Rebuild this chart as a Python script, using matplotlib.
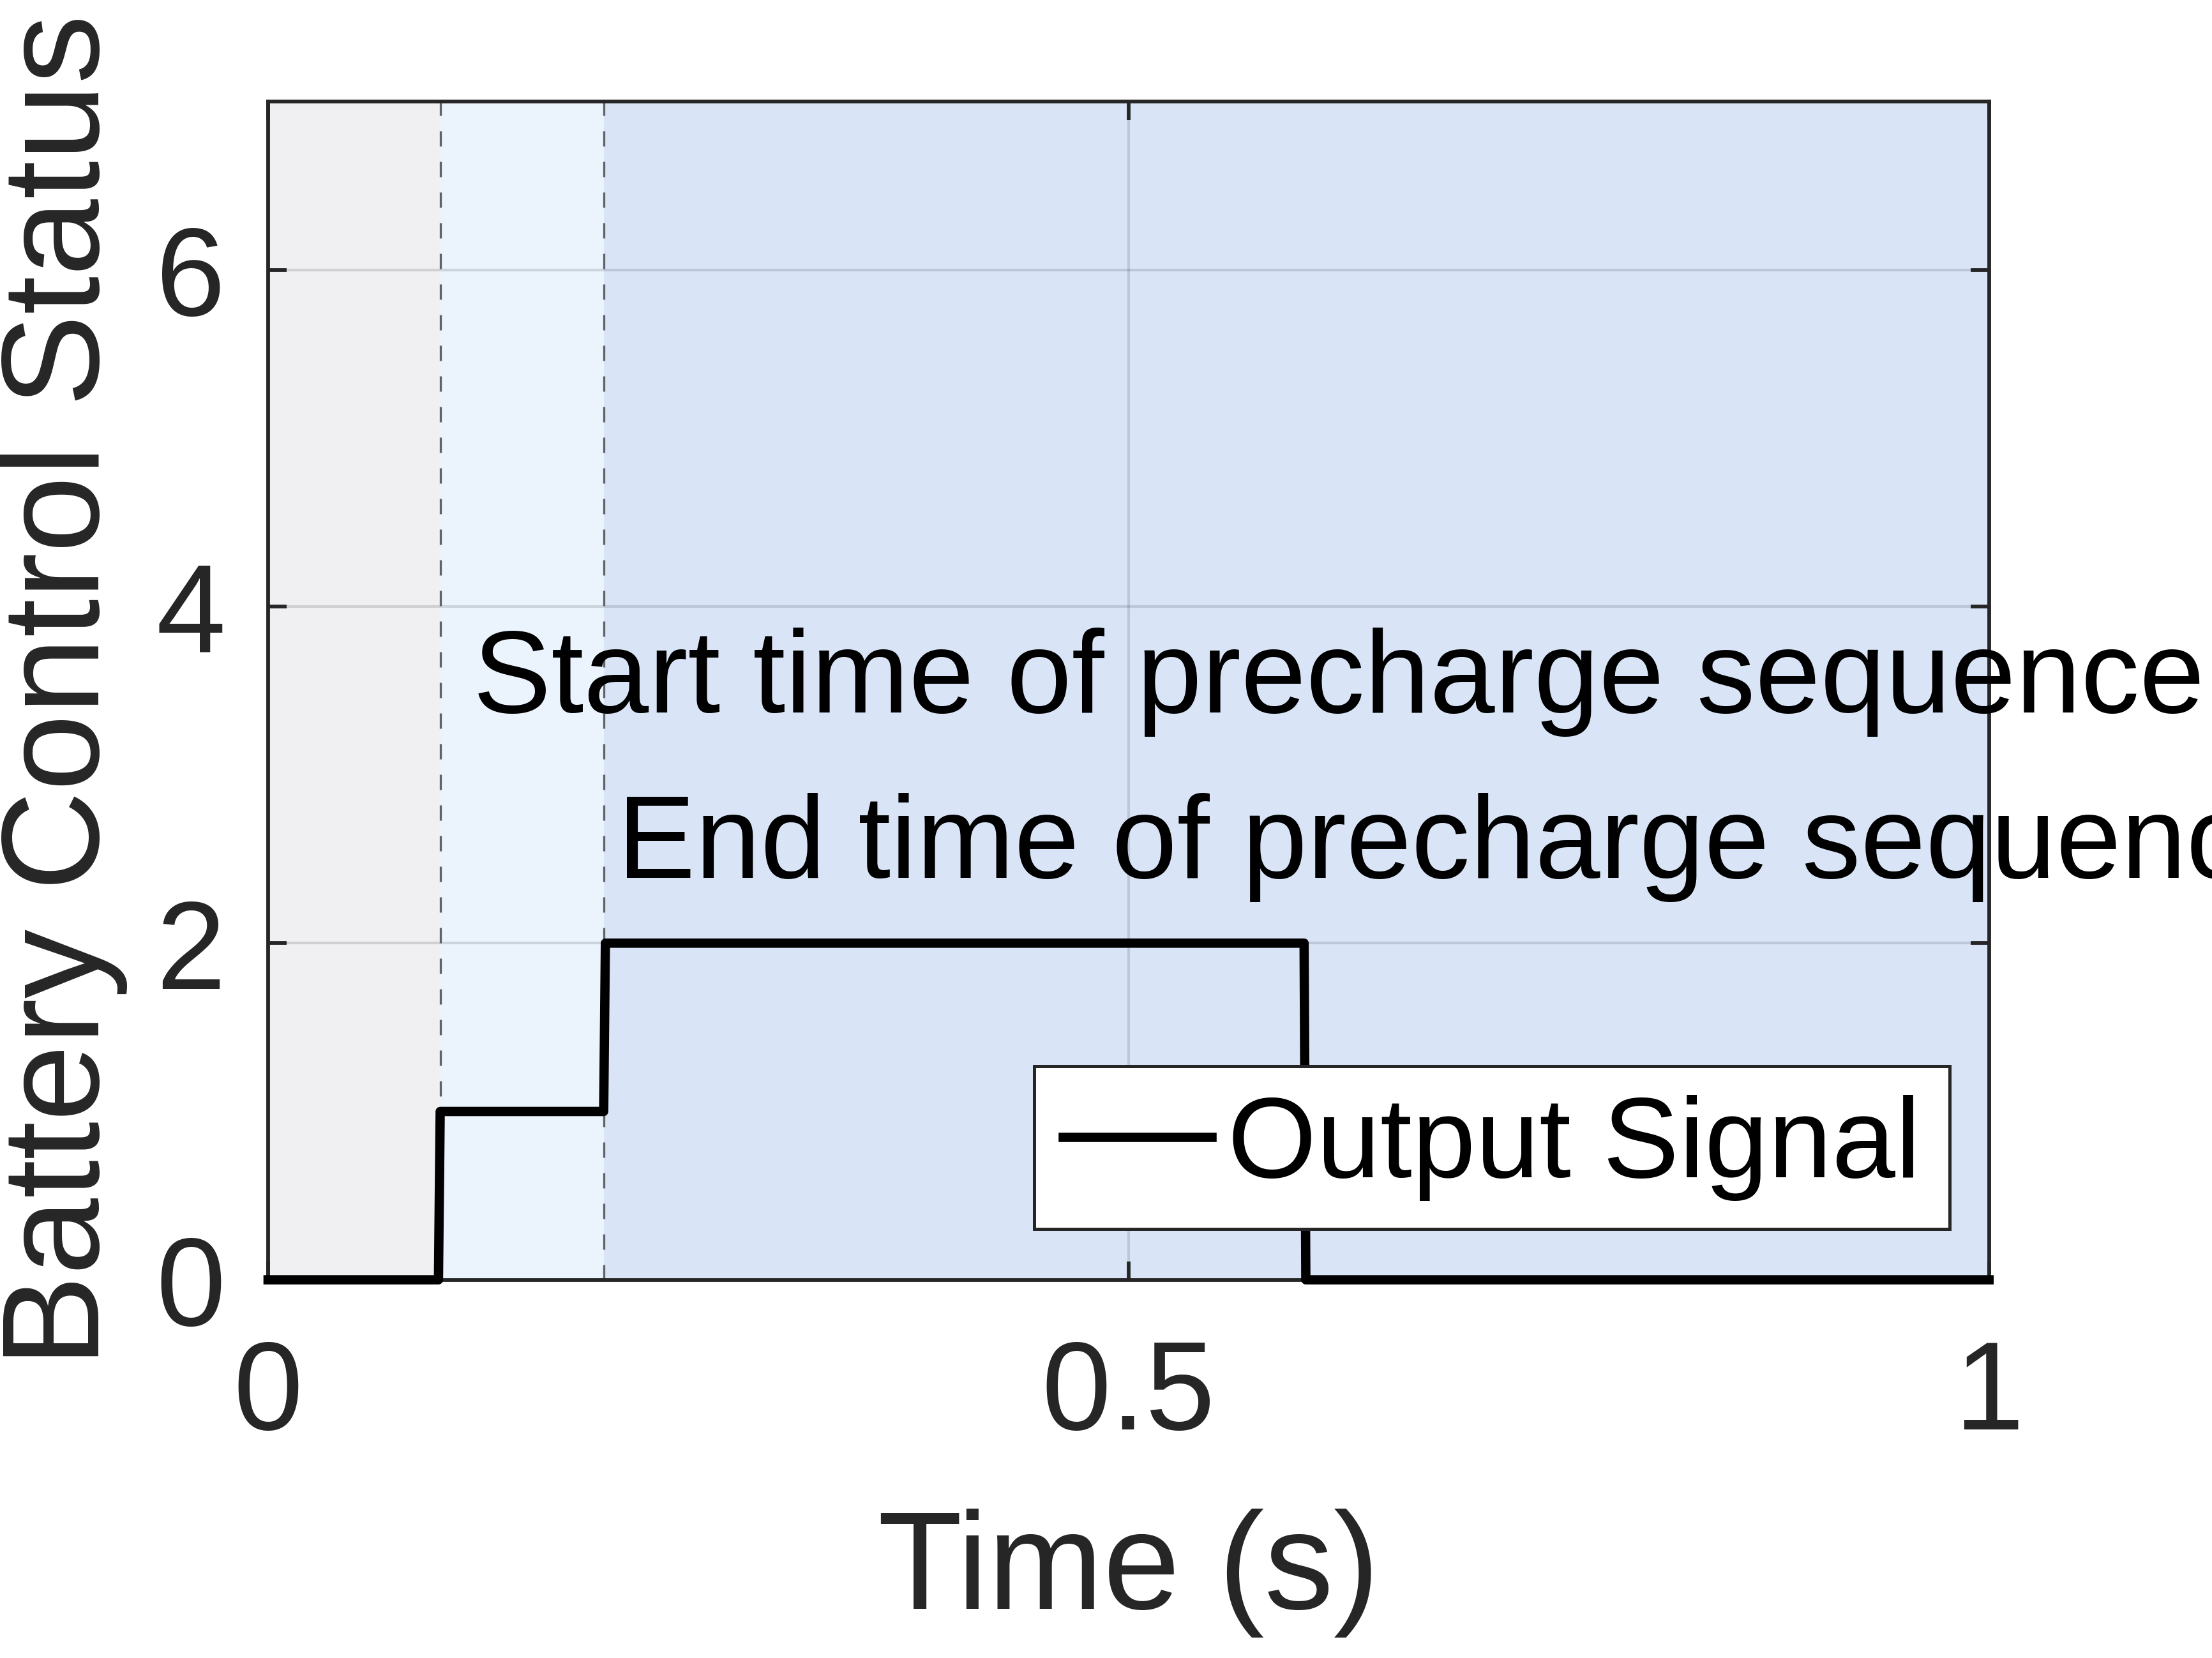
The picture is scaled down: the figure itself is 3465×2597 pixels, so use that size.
import numpy as np
import matplotlib
matplotlib.use('Agg')
import matplotlib.pyplot as plt

# signal samples
t = [0.0, 0.099, 0.100, 0.195, 0.196, 0.602, 0.603, 1.0]
status = [0, 0, 1, 1, 2, 2, 0, 0]

# shaded phases and marker lines
phase_edges = [0.0, 0.1, 0.195, 1.0]
phase_colors = ['#f0f0f2', '#ebf3fd', '#d9e5f7']
marker_times = [0.1, 0.195]

notes = ['Start time of precharge sequence', 'End time of precharge sequence']
note_x = [0.119, 0.203]
note_y = [3.37, 2.39]

xticks = [0, 0.5, 1]
yticks = [0, 2, 4, 6]

plt.rcParams['font.family'] = ['Liberation Sans', 'DejaVu Sans']

fig = plt.figure(figsize=(11.55, 8.657), dpi=300)
ax = fig.add_axes([0.1212, 0.2281, 0.778, 0.7106])

for i in range(len(phase_colors)):
    ax.axvspan(phase_edges[i], phase_edges[i + 1], color=phase_colors[i], lw=0, zorder=0)

ax.grid(True, color='#000000', alpha=0.13, lw=1.0, zorder=1)
ax.set_axisbelow(True)

for xm in marker_times:
    ax.axvline(xm, color='#5f6368', lw=0.8, ls=(0, (7.2, 7.2)), zorder=2)

ax.plot(t, status, color='black', lw=3.5, label='Output Signal',
        solid_joinstyle='round', clip_on=False, zorder=5)

for txt, x, y in zip(notes, note_x, note_y):
    ax.text(x, y, txt, fontsize=44, color='black', ha='left', va='baseline',
            clip_on=False, zorder=6)

ax.set_xlim(0, 1)
ax.set_ylim(0, 7)
ax.set_xticks(xticks)
ax.set_xticklabels(['0', '0.5', '1'])
ax.set_yticks(yticks)

for s in ax.spines.values():
    s.set_color('#262626')
    s.set_linewidth(1.4)
    s.set_zorder(4)

ax.tick_params(axis='both', which='both', direction='in', top=True, right=True,
               length=7, width=1.4, color='#262626', labelcolor='#262626',
               labelsize=47)
ax.tick_params(axis='x', pad=22)
ax.tick_params(axis='y', pad=16)

ax.set_xlabel('Time (s)', fontsize=52, color='#262626')
ax.xaxis.set_label_coords(0.5, -0.249)
ax.xaxis.label.set_va('center')
ax.set_ylabel('Battery Control Status', fontsize=52, color='#262626')
ax.yaxis.set_label_coords(-0.119, 0.5)
ax.yaxis.label.set_va('center')

leg = ax.legend(loc='lower right', bbox_to_anchor=(0.977, 0.043), fontsize=43,
                handlelength=1.3, handletextpad=0.14, borderpad=0.25,
                borderaxespad=0, fancybox=False, framealpha=1)
leg.get_frame().set_edgecolor('#262626')
leg.get_frame().set_linewidth(1.2)
leg.set_zorder(7)

fig.savefig('out.png', dpi=300)
